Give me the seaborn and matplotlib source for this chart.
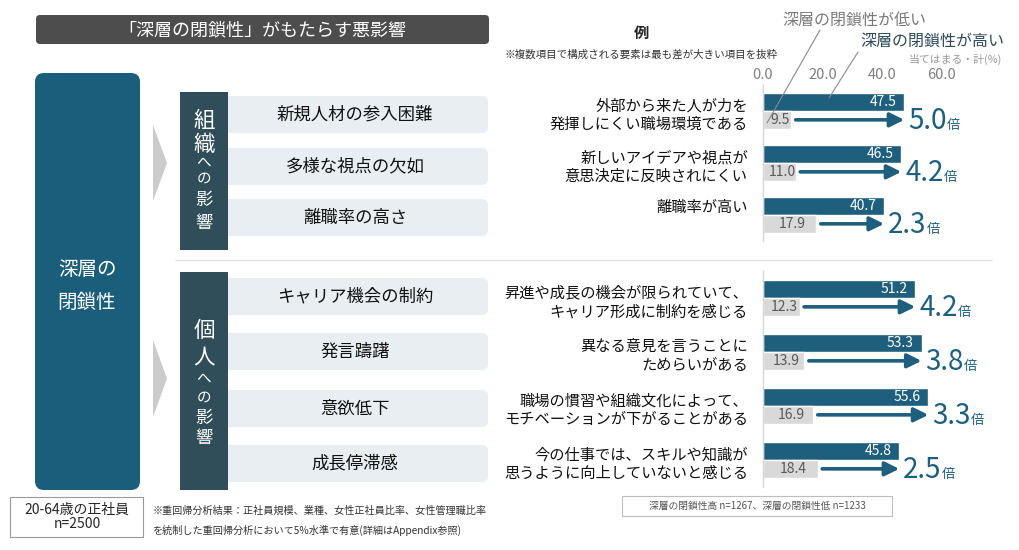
import matplotlib.pyplot as plt
from matplotlib.patches import FancyBboxPatch, Rectangle, Polygon
import seaborn as sns
import pandas as pd

sns.set_style("white")
plt.rcParams['font.family'] = ['Noto Sans CJK JP', 'DejaVu Sans']

# ---- data ----
org_items = ["新規人材の参入困難", "多様な視点の欠如", "離職率の高さ"]
org_questions = ["外部から来た人が力を\n発揮しにくい職場環境である",
                 "新しいアイデアや視点が\n意思決定に反映されにくい",
                 "離職率が高い"]
org_high = [47.5, 46.5, 40.7]
org_low = [9.5, 11.0, 17.9]
org_ratio = ["5.0", "4.2", "2.3"]

ind_items = ["キャリア機会の制約", "発言躊躇", "意欲低下", "成長停滞感"]
ind_questions = ["昇進や成長の機会が限られていて、\nキャリア形成に制約を感じる",
                 "異なる意見を言うことに\nためらいがある",
                 "職場の慣習や組織文化によって、\nモチベーションが下がることがある",
                 "今の仕事では、スキルや知識が\n思うように向上していないと感じる"]
ind_high = [51.2, 53.3, 55.6, 45.8]
ind_low = [12.3, 13.9, 16.9, 18.4]
ind_ratio = ["4.2", "3.8", "3.3", "2.5"]

groups = ["深層の閉鎖性が高い", "深層の閉鎖性が低い"]
xticks = [0, 20, 40, 60]

NAVY = "#1d5f7d"
LGRAY = "#d9d9d9"
SLATE = "#2f4e5a"
BOXBG = "#e8eef1"

W, H = 1020, 550
fig = plt.figure(figsize=(W / 100, H / 100), dpi=100)
bg = fig.add_axes([0, 0, 1, 1])
bg.set_xlim(0, W)
bg.set_ylim(H, 0)
bg.axis("off")


def px_axes(x0, y0, x1, y1):
    return fig.add_axes([x0 / W, 1 - y1 / H, (x1 - x0) / W, (y1 - y0) / H])


def rbox(x, y, w, h, color, r=4, **kw):
    bg.add_patch(FancyBboxPatch((x, y), w, h, boxstyle=f"round,pad=0,rounding_size={r}",
                                fc=color, ec="none", **kw))


# header
rbox(36, 15, 453, 29, "#4d4d4d", r=4)
bg.text(262, 30, "「深層の閉鎖性」がもたらす悪影響", color="white", fontsize=13,
        ha="center", va="center")

# big left box
rbox(35, 73, 105, 417, "#1b5e7b", r=9)
bg.text(87, 286, "深層の\n閉鎖性", color="white", fontsize=14, ha="center", va="center",
        linespacing=1.8)

# chevrons
for y0, y1 in [(125, 201), (340, 417)]:
    bg.add_patch(Polygon([(153, y0), (167, (y0 + y1) / 2), (153, y1)], closed=True,
                         fc="#cbcbcb", ec="none"))

# category boxes
org_rows = [96, 148, 199]
ind_rows = [278, 333, 390, 445]
for rows, items in [(org_rows, org_items), (ind_rows, ind_items)]:
    for y, label in zip(rows, items):
        rbox(215, y, 273, 37, BOXBG, r=6)
        bg.text(355, y + 18.5, label, fontsize=12.5, ha="center", va="center", color="#111111")

bg.add_patch(Rectangle((180, 92), 48, 158, fc=SLATE, ec="none"))
bg.add_patch(Rectangle((180, 272), 48, 218, fc=SLATE, ec="none"))
org_chars = [("組", 121, 15.5), ("織", 145, 15.5), ("へ", 164, 10.5), ("の", 179, 10.5),
             ("影", 200, 12.5), ("響", 223, 12.5)]
ind_chars = [("個", 331, 15.5), ("人", 357, 15.5), ("へ", 380, 10.5), ("の", 398, 10.5),
             ("影", 418, 12.5), ("響", 438, 12.5)]
for ch, y, fs in org_chars + ind_chars:
    bg.text(204, y, ch, color="white", fontsize=fs, ha="center", va="center")

# separator
bg.plot([175, 992], [260, 260], color="#e3e3e3", lw=1)

# legend-ish annotation
bg.text(641, 33, "例", fontsize=11, fontweight="bold", ha="center", va="center")
bg.text(505, 55, "※複数項目で構成される要素は最も差が大きい項目を抜粋", fontsize=7.6,
        ha="left", va="center", color="#333333")
bg.text(782, 20, groups[1], fontsize=11.5, color="#7a7a7a", ha="left", va="center")
bg.text(860, 41, groups[0], fontsize=11.5, color="#2b4a57", ha="left", va="center")
bg.text(1002, 59, "当てはまる・計(%)", fontsize=7.8, color="#9a9a9a", ha="right", va="center")

# bottom notes
bg.add_patch(Rectangle((10, 497), 133, 40, fc="white", ec="#9a9a9a", lw=0.8))
bg.text(77, 517, "20-64歳の正社員\nn=2500", fontsize=10, ha="center", va="center",
        linespacing=1.05)
bg.text(153, 511, "※重回帰分析結果：正社員規模、業種、女性正社員比率、女性管理職比率",
        fontsize=7.3, ha="left", va="center", color="#333333")
bg.text(153, 530, "を統制した重回帰分析において5%水準で有意(詳細はAppendix参照)",
        fontsize=7.3, ha="left", va="center", color="#333333")
bg.add_patch(Rectangle((622, 496), 270, 20, fc="white", ec="#bdbdbd", lw=0.8))
bg.text(757, 506, "深層の閉鎖性高 n=1267、深層の閉鎖性低 n=1233", fontsize=7,
        ha="center", va="center", color="#555555")


def bar_block(ax, items, questions, high, low, ratio, width):
    n = len(items)
    df = pd.DataFrame({"item": items * 2,
                       "group": [groups[0]] * n + [groups[1]] * n,
                       "value": high + low})
    sns.barplot(data=df, x="value", y="item", hue="group", hue_order=groups, orient="h",
                palette=[NAVY, LGRAY], width=width, saturation=1, errorbar=None,
                legend=False, ax=ax)
    ax.set_xlim(0, 60)
    ax.set_ylim(n - 0.5, -0.5)
    ax.set_xlabel("")
    ax.set_ylabel("")
    ax.set_yticks([])
    ax.patch.set_alpha(0)
    for s in ["top", "right", "bottom"]:
        ax.spines[s].set_visible(False)
    ax.spines["left"].set_color("#d6d6d6")
    ax.spines["left"].set_linewidth(1)
    off = width / 4
    for i in range(n):
        ax.text(high[i] - 2.6, i - off, f"{high[i]:.1f}", ha="right", va="center",
                color="white", fontsize=10)
        ax.text(low[i] / 2 + 1, i + off, f"{low[i]:.1f}", ha="center", va="center",
                color="#595959", fontsize=10)
        ax.annotate("", xy=(high[i], i + off), xytext=(low[i] + 1.5, i + off),
                    arrowprops=dict(arrowstyle="-|>,head_length=0.85,head_width=0.42",
                                    color=NAVY, lw=2.6, shrinkA=0, shrinkB=0,
                                    mutation_scale=10),
                    annotation_clip=False)
        t = ax.text(high[i] + 1.3, i + off + 0.03, ratio[i], ha="left", va="center",
                    color=NAVY, fontsize=20, clip_on=False)
        ax.annotate("倍", xy=(1, 0.14), xycoords=t, ha="left", va="bottom",
                    color=NAVY, fontsize=9.5, annotation_clip=False)
        dy = 0.08 if "\n" in questions[i] else -0.15
        ax.text(-0.085, i + dy, questions[i], transform=ax.get_yaxis_transform(),
                ha="right", va="center", fontsize=11, linespacing=1.15, color="#111111")


ax1 = px_axes(763, 85, 941.5, 241)
bar_block(ax1, org_items, org_questions, org_high, org_low, org_ratio, 0.68)
ax1.xaxis.tick_top()
ax1.set_xticks(xticks)
ax1.set_xticklabels([f"{v:.1f}" for v in xticks])
ax1.tick_params(axis="x", length=0, pad=2, labelsize=10.5, labelcolor="#808080")

ax2 = px_axes(763, 271, 941.5, 487)
bar_block(ax2, ind_items, ind_questions, ind_high, ind_low, ind_ratio, 0.68 * 52 / 54)
ax2.set_xticks([])

# leader lines from legend labels to the sample bars
bg.plot([820, 767], [30, 123], color="#8a8a8a", lw=0.8)
bg.plot([858, 829], [52, 98], color="#8a8a8a", lw=0.8)
bg.set_zorder(0)
ax1.set_zorder(1)
ax2.set_zorder(1)
for ln in bg.lines[-2:]:
    ln.remove()
    ax1.add_line(ln)
    ln.set_transform(bg.transData)
    ln.set_clip_on(False)
    ln.set_zorder(10)

fig.savefig("out.png", dpi=100, facecolor="white")
